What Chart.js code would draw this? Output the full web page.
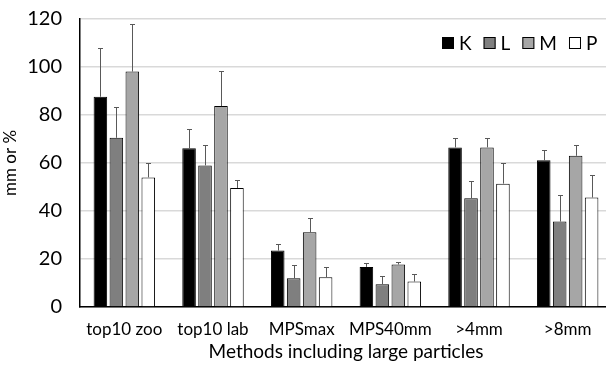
<!DOCTYPE html>
<html>
<head>
<meta charset="utf-8">
<script src="https://cdn.jsdelivr.net/npm/chart.js@4/dist/chart.umd.min.js"></script>
<style>
html, body { margin: 0; padding: 0; overflow: hidden; background: #fff; }
#wrap { position: relative; width: 612px; height: 365px; }
</style>
</head>
<body>
<div id="wrap"><canvas id="c" width="612" height="365"></canvas></div>
<script>
const categories = ['top10 zoo', 'top10 lab', 'MPSmax', 'MPS40mm', '>4mm', '>8mm'];
const seriesNames = ['K', 'L', 'M', 'P'];
const valuesK = [87.6, 66.1, 23.5, 16.7, 66.5, 61.1];
const valuesL = [70.5, 59.0, 12.0, 9.5, 45.3, 35.6];
const valuesM = [98.1, 83.7, 31.1, 17.7, 66.5, 63.0];
const valuesP = [54.0, 49.6, 12.4, 10.6, 51.4, 45.6];
const errorK = [20.4, 7.9, 2.8, 1.8, 4.0, 4.2];
const errorL = [12.9, 8.4, 5.3, 3.6, 7.3, 11.0];
const errorM = [20.0, 14.7, 6.1, 1.1, 4.0, 4.3];
const errorP = [6.0, 3.4, 4.4, 3.1, 8.4, 9.6];
const yTicks = [0, 20, 40, 60, 80, 100, 120];

const fills = ['#000000', '#7f7f7f', '#a6a6a6', '#ffffff'];
const allValues = [valuesK, valuesL, valuesM, valuesP];
const allErrors = [errorK, errorL, errorM, errorP];

const FONT = 'Lato, "Open Sans", sans-serif';

const errorBars = {
  id: 'errorBars',
  afterDatasetsDraw(chart) {
    const ctx = chart.ctx;
    const y = chart.scales.y;
    ctx.save();
    ctx.strokeStyle = '#595959';
    ctx.lineWidth = 1;
    chart.data.datasets.forEach((ds, i) => {
      const meta = chart.getDatasetMeta(i);
      meta.data.forEach((bar, j) => {
        const v = ds.data[j];
        const e = allErrors[i][j];
        const x = Math.round(bar.x) + 0.5;
        const yTop = Math.round(y.getPixelForValue(v + e)) + 0.5;
        const yBase = y.getPixelForValue(v);
        ctx.beginPath();
        ctx.moveTo(x, yBase);
        ctx.lineTo(x, yTop);
        ctx.moveTo(x - 2.5, yTop);
        ctx.lineTo(x + 2.5, yTop);
        ctx.stroke();
      });
    });
    ctx.restore();
  }
};

const insideLegend = {
  id: 'insideLegend',
  afterDraw(chart) {
    const ctx = chart.ctx;
    const area = chart.chartArea;
    ctx.save();
    ctx.font = '19px ' + FONT;
    ctx.textBaseline = 'middle';
    let x = area.right - 170;
    const yTop = area.top + 18;
    chart.data.datasets.forEach((ds) => {
      ctx.fillStyle = ds.backgroundColor;
      ctx.fillRect(x, yTop, 12, 12);
      ctx.strokeStyle = '#000';
      ctx.lineWidth = 1;
      ctx.strokeRect(x + 0.5, yTop + 0.5, 11, 11);
      ctx.fillStyle = '#000';
      ctx.fillText(ds.label, x + 17, yTop + 6.5);
      const w = ctx.measureText(ds.label).width;
      x += 12 + 5 + w + 12;
    });
    ctx.restore();
  }
};

new Chart(document.getElementById('c'), {
  type: 'bar',
  data: {
    labels: categories,
    datasets: seriesNames.map((n, i) => ({
      label: n,
      data: allValues[i],
      backgroundColor: fills[i],
      borderColor: '#000000',
      borderWidth: 1,
      categoryPercentage: 0.72,
      barPercentage: 0.85
    }))
  },
  options: {
    responsive: false,
    animation: false,
    devicePixelRatio: 1,
    layout: { padding: { top: 19, right: 0, bottom: 0, left: 0 } },
    plugins: {
      tooltip: { enabled: false },
      legend: { display: false }
    },
    scales: {
      x: {
        grid: { display: false, drawTicks: false },
        border: { color: '#000', width: 1.5 },
        ticks: { color: '#000', font: { family: FONT, size: 17 }, padding: 12, maxRotation: 0 },
        title: { display: true, text: 'Methods including large particles', color: '#000', font: { family: FONT, size: 19 }, padding: { top: 2, bottom: 2 } },
        afterFit(s) { s.height = 58; s.paddingLeft = 0; s.paddingRight = 0; }
      },
      y: {
        min: 0,
        max: 120,
        afterBuildTicks(s) { s.ticks = yTicks.map(v => ({ value: v })); },
        grid: { color: '#d9d9d9', lineWidth: 1.5, drawTicks: false },
        border: { color: '#000', width: 1.5 },
        ticks: { color: '#000', font: { family: FONT, size: 20 }, padding: 18 },
        title: { display: true, text: 'mm or %', color: '#000', font: { family: FONT, size: 17 }, padding: { top: 0, bottom: 0 } },
        afterFit(s) { s.width = 80; s.paddingTop = 0; s.paddingBottom = 0; }
      }
    }
  },
  plugins: [errorBars, insideLegend]
});
</script>
</body>
</html>
